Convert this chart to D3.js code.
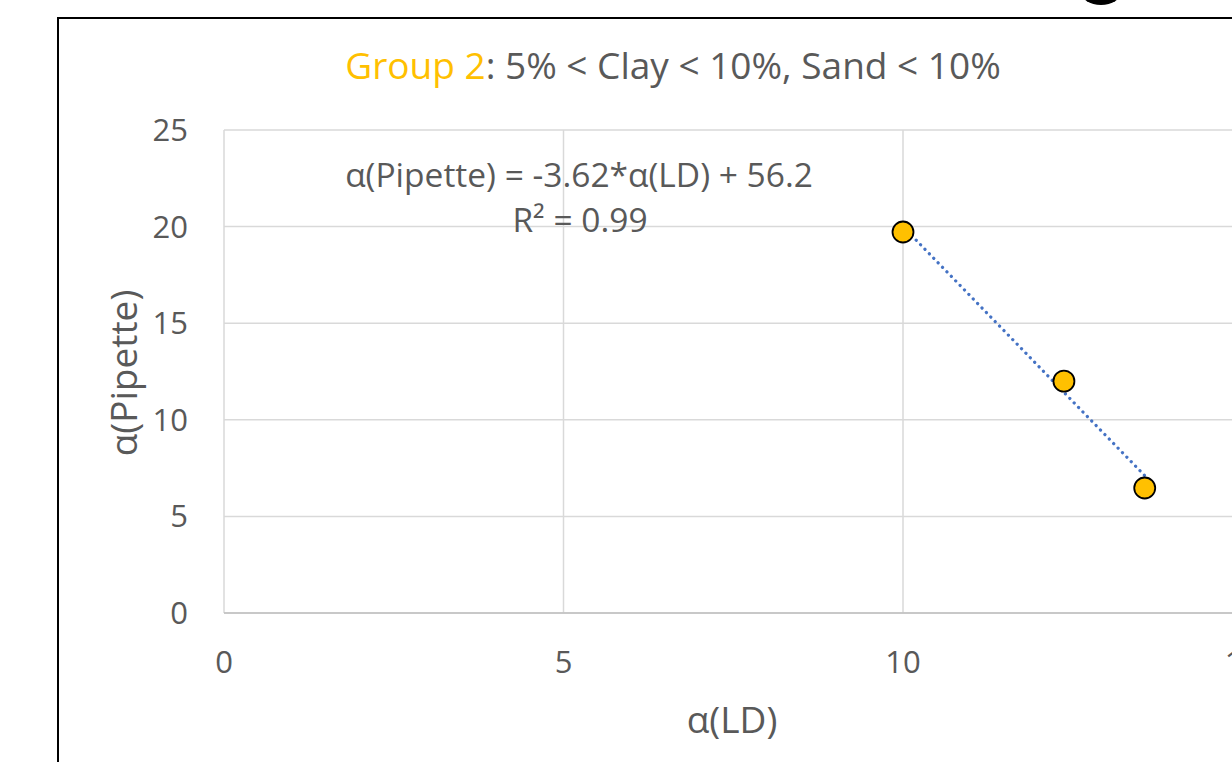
<!DOCTYPE html>
<html>
<head>
<meta charset="utf-8">
<script src="https://cdn.jsdelivr.net/npm/d3@7"></script>
<style>
  html, body { margin: 0; padding: 0; background: #fff; }
  svg { display: block; font-family: 'Open Sans', sans-serif; }
</style>
</head>
<body>
<div id="chart"></div>
<script>
// data
const ldValues = [10.0, 12.37, 13.56]
const pipetteValues = [19.72, 12.0, 6.47]
const xTicks = [0, 5, 10, 15]
const yTicks = [0, 5, 10, 15, 20, 25]
const fit = { slope: -3.62, intercept: 56.2, r2: 0.99 }

const W = 1232
const H = 762
const plot = { left: 224, top: 130, right: 1242.5, bottom: 613 }

const svg = d3.select('#chart')
  .append('svg')
  .attr('width', W)
  .attr('height', H)

const x = d3.scaleLinear([0, 15], [plot.left, plot.right])
const y = d3.scaleLinear([0, 25], [plot.bottom, plot.top])

// chart frame (runs off the right and bottom edges)
svg.append('rect')
  .attr('x', 58)
  .attr('y', 18)
  .attr('width', 1300)
  .attr('height', 900)
  .attr('fill', 'none')
  .attr('stroke', '#000')
  .attr('stroke-width', 2)

// piece of something above the frame
svg.append('ellipse')
  .attr('cx', 1101)
  .attr('cy', -8)
  .attr('rx', 20)
  .attr('ry', 13)
  .attr('fill', '#000')

// gridlines
svg.append('g')
  .selectAll('line')
  .data(yTicks)
  .join('line')
  .attr('x1', plot.left)
  .attr('x2', plot.right)
  .attr('y1', d => y(d))
  .attr('y2', d => y(d))
  .attr('stroke', '#d9d9d9')
  .attr('stroke-width', 1.5)

svg.append('g')
  .selectAll('line')
  .data(xTicks)
  .join('line')
  .attr('x1', d => x(d))
  .attr('x2', d => x(d))
  .attr('y1', plot.top)
  .attr('y2', plot.bottom)
  .attr('stroke', '#d9d9d9')
  .attr('stroke-width', 1.5)

// axis baseline
svg.append('line')
  .attr('x1', plot.left)
  .attr('x2', plot.right)
  .attr('y1', y(0))
  .attr('y2', y(0))
  .attr('stroke', '#bfbfbf')
  .attr('stroke-width', 1.5)

// tick labels
svg.append('g')
  .selectAll('text')
  .data(xTicks)
  .join('text')
  .attr('x', d => x(d))
  .attr('y', plot.bottom + 60)
  .attr('text-anchor', 'middle')
  .attr('font-size', 31)
  .attr('fill', '#595959')
  .text(d => d)

svg.append('g')
  .selectAll('text')
  .data(yTicks)
  .join('text')
  .attr('x', 188)
  .attr('y', d => y(d) + 11)
  .attr('text-anchor', 'end')
  .attr('font-size', 31)
  .attr('fill', '#595959')
  .text(d => d)

// axis titles
svg.append('text')
  .attr('x', 732)
  .attr('y', 733)
  .attr('text-anchor', 'middle')
  .attr('font-size', 37)
  .attr('fill', '#595959')
  .text('α(LD)')

svg.append('text')
  .attr('transform', 'translate(137, 373) rotate(-90)')
  .attr('text-anchor', 'middle')
  .attr('font-size', 37)
  .attr('fill', '#595959')
  .text('α(Pipette)')

// title
const title = svg.append('text')
  .attr('x', 673)
  .attr('y', 79)
  .attr('text-anchor', 'middle')
  .attr('font-size', 37)
  .attr('fill', '#595959')
title.append('tspan').attr('fill', '#FFC000').text('Group 2')
title.append('tspan').text(': 5% < Clay < 10%, Sand < 10%')

// trendline
const xExt = d3.extent(ldValues)
svg.append('line')
  .attr('x1', x(xExt[0]))
  .attr('y1', y(fit.slope * xExt[0] + fit.intercept))
  .attr('x2', x(xExt[1]))
  .attr('y2', y(fit.slope * xExt[1] + fit.intercept))
  .attr('stroke', '#4472C4')
  .attr('stroke-width', 3.2)
  .attr('stroke-linecap', 'round')
  .attr('stroke-dasharray', '0.1 6.2')

// equation
svg.append('text')
  .attr('x', 579)
  .attr('y', 187)
  .attr('text-anchor', 'middle')
  .attr('font-size', 33.5)
  .attr('fill', '#595959')
  .text(`α(Pipette) = ${fit.slope}*α(LD) + ${fit.intercept}`)

svg.append('text')
  .attr('x', 580)
  .attr('y', 232)
  .attr('text-anchor', 'middle')
  .attr('font-size', 33.5)
  .attr('fill', '#595959')
  .text(`R² = ${fit.r2}`)

// points
svg.append('g')
  .selectAll('circle')
  .data(ldValues.map((d, i) => ({ x: d, y: pipetteValues[i] })))
  .join('circle')
  .attr('cx', d => x(d.x))
  .attr('cy', d => y(d.y))
  .attr('r', 10.5)
  .attr('fill', '#FFC000')
  .attr('stroke', '#000')
  .attr('stroke-width', 1.8)
</script>
</body>
</html>
